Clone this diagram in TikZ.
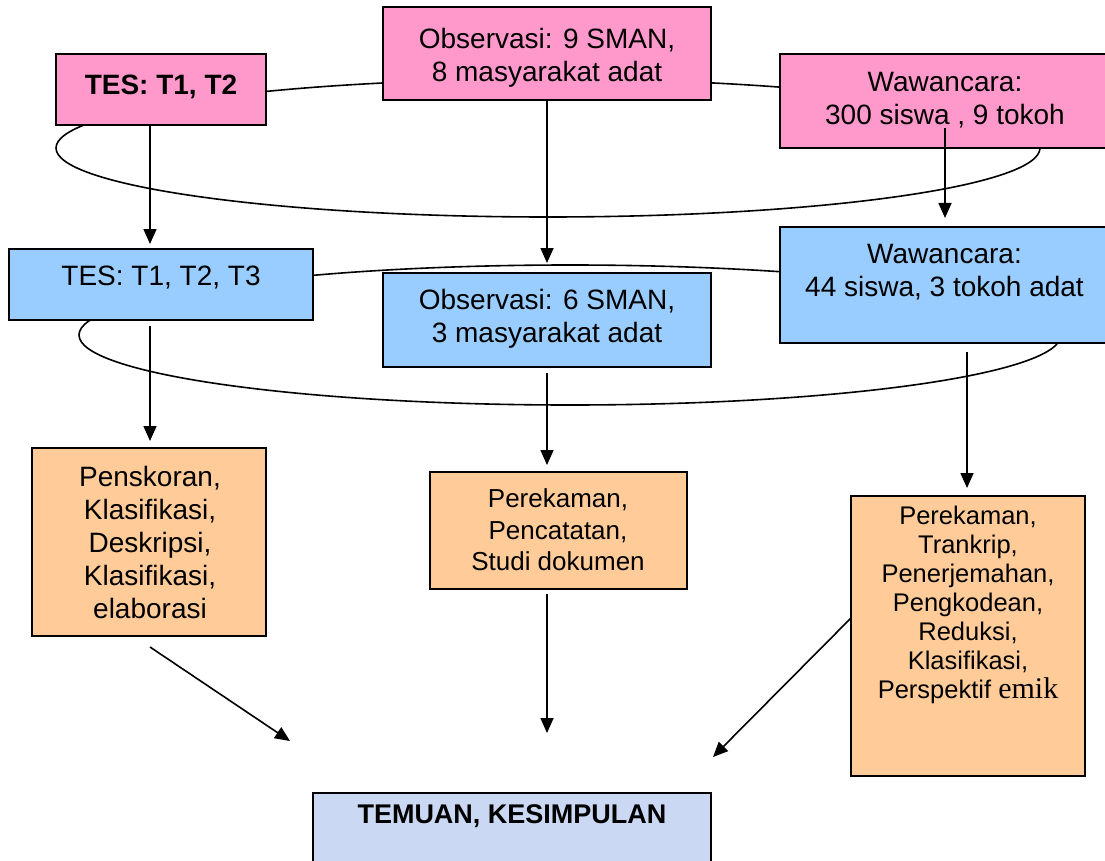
\documentclass[tikz,border=0pt]{standalone}
\usepackage{fontspec}
\setmainfont{Liberation Sans}
\newfontfamily\serifemik{Liberation Serif}
\usetikzlibrary{arrows.meta}
\definecolor{pinkfill}{RGB}{255,153,204}
\definecolor{bluefill}{RGB}{153,204,255}
\definecolor{orangefill}{RGB}{255,204,153}
\definecolor{resultfill}{RGB}{202,216,243}
\begin{document}
\begin{tikzpicture}[x=1pt,y=-1pt,
  boxbase/.style={draw=black, line width=1.7pt, inner sep=0pt, outer sep=0pt},
  pinkbox/.style={boxbase, fill=pinkfill},
  bluebox/.style={boxbase, fill=bluefill},
  orangebox/.style={boxbase, fill=orangefill},
  resultbox/.style={boxbase, fill=resultfill},
  txt/.style={align=center, inner sep=0pt, font=\fontsize{28}{33}\selectfont},
  txtsmall/.style={align=center, inner sep=0pt, font=\fontsize{26}{31.5}\selectfont},
  txttiny/.style={align=center, inner sep=0pt, font=\fontsize{25.5}{29}\selectfont},
  arr/.style={line width=1.6pt, -{Triangle[width=13pt,length=15pt]}},
  loop/.style={line width=1.6pt}]
\useasboundingbox (0,0) rectangle (1105,861);
\fill[white] (0,0) rectangle (1105,861);

% loops behind the boxes
\draw[loop] (548,148) ellipse [x radius=492pt, y radius=69pt];
\draw[loop] (570,335) ellipse [x radius=491pt, y radius=70pt];

% layer 1
\node[pinkbox, minimum width=210pt, minimum height=71pt] (A) at (161,89.5) {};
\node[pinkbox, minimum width=328pt, minimum height=93pt] (B) at (547,53.5) {};
\node[pinkbox, minimum width=335pt, minimum height=94pt] (C) at (947.5,101) {};
\node[txt, font=\fontsize{28}{33}\selectfont\bfseries] (tA) at (161,87) {TES: T1, T2};
\node[txt] (tB) at (547,58) {Observasi: 9 SMAN,\\8 masyarakat adat};
\node[txt] (tC) at (945,100) {Wawancara:\\300 siswa , 9 tokoh};

% layer 2
\node[bluebox, minimum width=304pt, minimum height=71pt] (D) at (161,284.5) {};
\node[bluebox, minimum width=328pt, minimum height=94pt] (E) at (547,320) {};
\node[bluebox, minimum width=335pt, minimum height=116pt] (F) at (947.5,285) {};
\node[txt] (tD) at (161,278) {TES: T1, T2, T3};
\node[txt] (tE) at (547,319) {Observasi: 6 SMAN,\\3 masyarakat adat};
\node[txt] (tF) at (944.5,272) {Wawancara:\\44 siswa, 3 tokoh adat};

% layer 3
\node[orangebox, minimum width=234pt, minimum height=188pt] (G) at (149,542) {};
\node[orangebox, minimum width=257pt, minimum height=117pt] (H) at (558.5,530.5) {};
\node[orangebox, minimum width=234pt, minimum height=280pt] (I) at (968,636) {};
\node[txt] (tG) at (150,542) {Penskoran,\\Klasifikasi,\\Deskripsi,\\Klasifikasi,\\elaborasi};
\node[txtsmall] (tH) at (558,530) {Perekaman,\\Pencatatan,\\Studi dokumen};
\node[txttiny] (tI) at (968,605) {Perekaman,\\Trankrip,\\Penerjemahan,\\Pengkodean,\\Reduksi,\\Klasifikasi,\\Perspektif {\serifemik\fontsize{30}{29}\selectfont emik}};

% result
\node[resultbox, minimum width=398pt, minimum height=87pt] (J) at (512,836.5) {};
\node[txt, font=\fontsize{27}{32}\selectfont\bfseries] (tJ) at (512,816) {TEMUAN, KESIMPULAN};

% free ends of the last arrows
\coordinate (endG) at (290,741);
\coordinate (endH) at (547,733);
\coordinate (endI) at (713,757);

% arrows
\draw[arr] ([xshift=-11pt]A.south) -- ([xshift=-11pt,yshift=5pt]D.north);
\draw[arr] (B.south) -- ([yshift=10pt]E.north);
\draw[arr] ([xshift=-2.5pt,yshift=20pt]C.south) -- ([xshift=-2.5pt,yshift=9pt]F.north);
\draw[arr] ([xshift=-11pt,yshift=-6pt]D.south) -- ([xshift=1pt,yshift=7pt]G.north);
\draw[arr] ([yshift=-6pt]E.south) -- ([xshift=-11.5pt,yshift=7pt]H.north);
\draw[arr] ([xshift=19.5pt,yshift=-9pt]F.south) -- ([xshift=-1pt,yshift=8pt]I.north);
\draw[arr] ([xshift=1pt,yshift=-11pt]G.south) -- (endG);
\draw[arr] ([xshift=-11.5pt,yshift=-5pt]H.south) -- (endH);
\draw[arr] ([yshift=18pt]I.west) -- (endI);
\end{tikzpicture}
\end{document}
